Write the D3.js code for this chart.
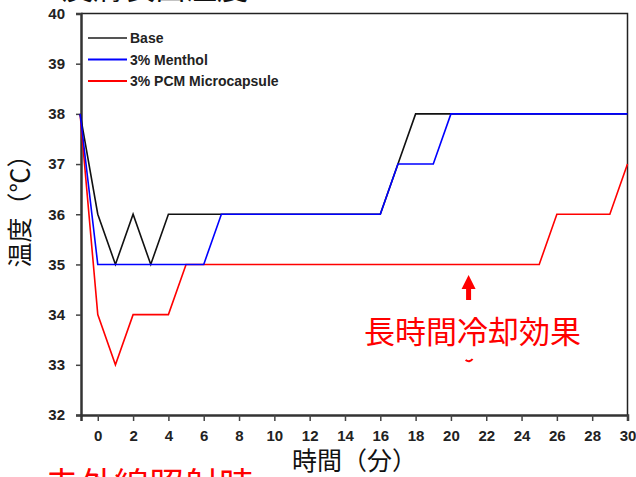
<!DOCTYPE html>
<html>
<head>
<meta charset="utf-8">
<script src="https://cdn.jsdelivr.net/npm/d3@7"></script>
<style>
  body { margin: 0; background: #fff; }
  svg { display: block; }
  .tick text { font-family: "Liberation Sans", Arial, sans-serif; font-weight: bold; font-size: 15px; fill: #222; }
</style>
</head>
<body>
<div id="chart"></div>
<script>
// time in minutes (-1 = before start)
var times = [-1, 0, 1, 2, 3, 4, 5, 6, 7, 8, 9, 10, 11, 12, 13, 14, 15, 16, 17, 18, 19, 20, 21, 22, 23, 24, 25, 26, 27, 28, 29, 30];
var baseTemps = [38, 36, 35, 36, 35, 36, 36, 36, 36, 36, 36, 36, 36, 36, 36, 36, 36, 36, 37, 38, 38, 38, 38, 38, 38, 38, 38, 38, 38, 38, 38, 38];
var mentholTemps = [38, 35, 35, 35, 35, 35, 35, 35, 36, 36, 36, 36, 36, 36, 36, 36, 36, 36, 37, 37, 37, 38, 38, 38, 38, 38, 38, 38, 38, 38, 38, 38];
var pcmTemps = [38, 34, 33, 34, 34, 34, 35, 35, 35, 35, 35, 35, 35, 35, 35, 35, 35, 35, 35, 35, 35, 35, 35, 35, 35, 35, 35, 36, 36, 36, 36, 37];
var seriesNames = ["Base", "3% Menthol", "3% PCM Microcapsule"];
var seriesColors = ["#111", "#0000ff", "#ff0000"];
var xTicks = [0, 2, 4, 6, 8, 10, 12, 14, 16, 18, 20, 22, 24, 26, 28, 30];
var yTicks = [32, 33, 34, 35, 36, 37, 38, 39, 40];

var width = 636, height = 477;
var plot = { left: 81, right: 627.5, top: 13.5, bottom: 415 };

var svg = d3.select("#chart").append("svg")
    .attr("width", width)
    .attr("height", height);

var x = d3.scaleLinear().domain([-0.95, 30]).range([plot.left, plot.right]);
var y = d3.scaleLinear().domain([32, 40]).range([plot.bottom, plot.top]);

// frame top/right
svg.append("path")
    .attr("d", "M" + plot.left + "," + plot.top + "H" + plot.right + "V" + plot.bottom)
    .attr("fill", "none")
    .attr("stroke", "#222")
    .attr("stroke-width", 1.5);

// axes
var yAxis = svg.append("g")
    .attr("transform", "translate(" + plot.left + ",0)")
    .call(d3.axisLeft(y).tickValues(yTicks).tickSize(5).tickPadding(11));
var xAxis = svg.append("g")
    .attr("transform", "translate(0," + plot.bottom + ")")
    .call(d3.axisBottom(x).tickValues(xTicks).tickSize(6).tickPadding(9));
[xAxis, yAxis].forEach(function (g) {
    g.select(".domain").attr("stroke", "#333").attr("stroke-width", 2.5);
    g.selectAll(".tick line").attr("stroke", "#444").attr("stroke-width", 1.5);
});

// lines
var line = d3.line()
    .x(function (d) { return x(d.t); })
    .y(function (d) { return y(d.v); });

var seriesData = [baseTemps, mentholTemps, pcmTemps].map(function (vals) {
    return vals.map(function (v, i) { return { t: times[i], v: v }; });
});

// draw red first, then black, then blue on top
[2, 0, 1].forEach(function (i) {
    svg.append("path")
        .datum(seriesData[i])
        .attr("fill", "none")
        .attr("stroke", seriesColors[i])
        .attr("stroke-width", 1.6)
        .attr("d", line);
});

// legend
var legend = svg.append("g");
seriesNames.forEach(function (name, i) {
    var ly = 38 + i * 21.5;
    legend.append("line")
        .attr("x1", 88).attr("x2", 127)
        .attr("y1", ly).attr("y2", ly)
        .attr("stroke", i === 0 ? "#555" : seriesColors[i])
        .attr("stroke-width", 2);
    legend.append("text")
        .attr("x", 130).attr("y", ly + 5)
        .style("font-family", "Liberation Sans, Arial, sans-serif")
        .style("font-weight", "bold")
        .style("font-size", "14px")
        .attr("fill", "#222")
        .text(name);
});

// axis titles
svg.append("text")
    .attr("transform", "translate(29," + 205 + ") rotate(-90)")
    .attr("text-anchor", "middle")
    .style("font-family", "Noto Sans CJK JP, sans-serif")
    .style("font-size", "25px")
    .attr("fill", "#111")
    .text("温度（℃）");

svg.append("text")
    .attr("x", 292).attr("y", 470)
    .style("font-family", "Noto Sans CJK JP, sans-serif")
    .style("font-size", "25px")
    .attr("fill", "#111")
    .text("時間（分）");

// cut-off title at top and note at bottom
svg.append("text")
    .attr("x", 62).attr("y", -1)
    .style("font-family", "Noto Sans CJK JP, sans-serif")
    .style("font-size", "31px")
    .attr("fill", "#111")
    .text("皮膚表面温度");

svg.append("text")
    .attr("x", 44).attr("y", 498)
    .style("font-family", "Noto Sans CJK JP, sans-serif")
    .style("font-size", "35px")
    .attr("fill", "#ff0000")
    .text("赤外線照射時");

// annotation
var ax = x(21);
svg.append("path")
    .attr("d", "M" + ax + ",275 L" + (ax - 7) + ",289 L" + (ax - 2.5) + ",289 L" + (ax - 2.5) + ",300 L" + (ax + 2.5) + ",300 L" + (ax + 2.5) + ",289 L" + (ax + 7) + ",289 Z")
    .attr("fill", "#ff0000");

svg.append("text")
    .attr("x", 364).attr("y", 343)
    .style("font-family", "Noto Sans CJK JP, sans-serif")
    .style("font-size", "31px")
    .attr("fill", "#ff0000")
    .text("長時間冷却効果");

svg.append("path")
    .attr("d", "M" + (ax - 3) + ",360 Q" + (ax + 1) + ",363 " + (ax + 4) + ",359")
    .attr("fill", "none")
    .attr("stroke", "#ff0000")
    .attr("stroke-width", 2);
</script>
</body>
</html>
